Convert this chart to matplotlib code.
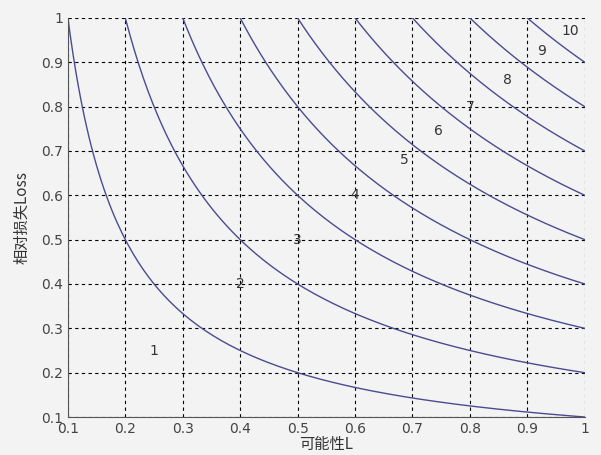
import numpy as np
import matplotlib.pyplot as plt

plt.rcParams['font.family'] = ['Noto Sans CJK SC', 'DejaVu Sans']

# iso-risk levels: L * Loss = k
levels = [0.1, 0.2, 0.3, 0.4, 0.5, 0.6, 0.7, 0.8, 0.9]
label_text = ["1", "2", "3", "4", "5", "6", "7", "8", "9", "10"]
label_x = [0.25, 0.40, 0.50, 0.60, 0.685, 0.745, 0.80, 0.865, 0.925, 0.975]
label_y = [0.25, 0.40, 0.50, 0.60, 0.68, 0.745, 0.80, 0.86, 0.925, 0.97]
ticks = [0.1, 0.2, 0.3, 0.4, 0.5, 0.6, 0.7, 0.8, 0.9, 1]
tick_labels = ["0.1", "0.2", "0.3", "0.4", "0.5", "0.6", "0.7", "0.8", "0.9", "1"]

fig = plt.figure(figsize=(6.01, 4.55), dpi=100, facecolor="#f3f3f3")
ax = fig.add_axes([0.113, 0.0835, 0.86, 0.877])
ax.set_facecolor("#f3f3f3")

for k in levels:
    L = np.linspace(k, 1, 200)
    ax.plot(L, k / L, color="#4b4b8f", lw=1.0)

for t, x, y in zip(label_text, label_x, label_y):
    ax.text(x, y, t, ha="center", va="center", fontsize=10, color="#333333",
            family="DejaVu Sans")

ax.set_xlim(0.1, 1)
ax.set_ylim(0.1, 1)
ax.set_xticks(ticks)
ax.set_xticklabels(tick_labels)
ax.set_yticks(ticks)
ax.set_yticklabels(tick_labels)
ax.grid(True, color="black", linestyle=(0, (3, 3)), linewidth=0.8)
ax.tick_params(direction="in", length=0, labelsize=10, labelcolor="#444444")
for lab in ax.get_xticklabels() + ax.get_yticklabels():
    lab.set_family("DejaVu Sans")
ax.spines["top"].set_visible(False)
ax.spines["right"].set_visible(False)
ax.spines["left"].set_color("#555555")
ax.spines["bottom"].set_color("#555555")

ax.set_xlabel("可能性L", fontsize=11, color="#333333", labelpad=0)
ax.set_ylabel("相对损失Loss", fontsize=11, color="#333333", labelpad=8)

fig.savefig("out.png", dpi=100, facecolor=fig.get_facecolor())
